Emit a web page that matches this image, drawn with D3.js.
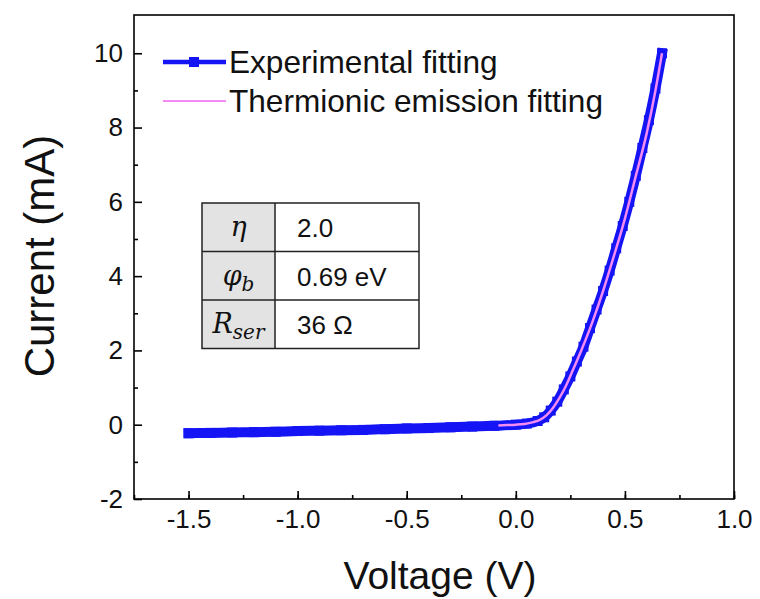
<html>
<head>
<meta charset="utf-8" />
<script src="https://d3js.org/d3.v7.min.js"></script>
<style>
  body { margin: 0; background: #fff; }
  svg { font-family: "Liberation Sans", Arial, sans-serif; }
</style>
</head>
<body>
<svg id="chart" width="760" height="599"></svg>
<script>
// measured I-V curve (V in volts, I in mA)
let expV = [-1.5, -1.4, -1.3, -1.2, -1.1, -1.0, -0.9, -0.8, -0.7, -0.6, -0.5, -0.4, -0.3, -0.2, -0.1,
            0.0, 0.05, 0.1, 0.13, 0.16, 0.19, 0.22, 0.25, 0.28, 0.31, 0.34, 0.37, 0.40, 0.43, 0.46,
            0.49, 0.52, 0.55, 0.58, 0.61, 0.64, 0.67]
let expI = [-0.23, -0.22, -0.21, -0.2, -0.19, -0.17, -0.16, -0.15, -0.14, -0.12, -0.1, -0.09, -0.07, -0.05, -0.03,
            0.0, 0.03, 0.1, 0.2, 0.38, 0.62, 0.95, 1.3, 1.7, 2.1, 2.6, 3.1, 3.6, 4.15, 4.75,
            5.35, 6.0, 6.7, 7.45, 8.2, 9.05, 10.0]
// thermionic emission fit
let fitV = [-0.08, -0.04, 0.0, 0.04, 0.08, 0.11, 0.14, 0.17, 0.2, 0.23, 0.26, 0.3, 0.35, 0.4, 0.45, 0.5, 0.55, 0.6, 0.64, 0.67]
let fitI = [-0.02, -0.01, 0.0, 0.02, 0.07, 0.13, 0.25, 0.45, 0.72, 1.05, 1.45, 2.0, 2.75, 3.6, 4.55, 5.55, 6.7, 7.85, 9.0, 10.0]

let xTicks = [-1.5, -1.0, -0.5, 0.0, 0.5, 1.0]
let yTicks = [-2, 0, 2, 4, 6, 8, 10]
let legendLabels = ["Experimental fitting", "Thermionic emission fitting"]
let paramNames = ["η", "φ", "R"]
let paramSubs = ["", "b", "ser"]
let paramValues = ["2.0", "0.69 eV", "36 Ω"]

let mLeft = 134, mRight = 734, mTop = 15, mBottom = 499
let x = d3.scaleLinear().domain([-1.75, 1.0]).range([mLeft, mRight])
let y = d3.scaleLinear().domain([-2, 11.03]).range([mBottom, mTop])
let hy = s => s.replace("−", "-")

let svg = d3.select("#chart")

// frame
svg.append("rect").attr("x", mLeft).attr("y", mTop).attr("width", mRight - mLeft).attr("height", mBottom - mTop)
  .attr("fill", "none").attr("stroke", "#000").attr("stroke-width", 1.6)

// x axis
let gx = svg.append("g").attr("transform", `translate(0,${mBottom})`)
gx.call(d3.axisBottom(x).tickValues(d3.range(-1.75, 1.001, 0.25)).tickSize(-4).tickFormat(""))
gx.select(".domain").remove()
let gx2 = svg.append("g").attr("transform", `translate(0,${mBottom})`)
gx2.call(d3.axisBottom(x).tickValues(xTicks).tickSize(-8).tickPadding(11).tickFormat(d => hy(d3.format(".1f")(d))))
gx2.select(".domain").remove()
gx2.selectAll("text").attr("font-size", 26).attr("fill", "#111").attr("font-family", "Liberation Sans, Arial")

// y axis
let gy = svg.append("g").attr("transform", `translate(${mLeft},0)`)
gy.call(d3.axisLeft(y).tickValues(d3.range(-1, 11, 2)).tickSize(-4).tickFormat(""))
gy.select(".domain").remove()
let gy2 = svg.append("g").attr("transform", `translate(${mLeft},0)`)
gy2.call(d3.axisLeft(y).tickValues(yTicks).tickSize(-8).tickPadding(11).tickFormat(d => hy(String(d))))
gy2.select(".domain").remove()
gy2.selectAll("text").attr("font-size", 26).attr("fill", "#111").attr("font-family", "Liberation Sans, Arial")
svg.selectAll(".tick line").attr("stroke", "#000").attr("stroke-width", 1.6)

// axis titles
svg.append("text").attr("x", 440).attr("y", 589).attr("text-anchor", "middle")
  .attr("font-size", 39).attr("fill", "#111").text("Voltage (V)")
svg.append("text").attr("transform", "translate(54,256) rotate(-90)").attr("text-anchor", "middle")
  .attr("font-size", 42).attr("fill", "#111").text("Current (mA)")

// data
let expData = expV.map((v, i) => [v, expI[i]])
let fitData = fitV.map((v, i) => [v, fitI[i]])
let line = d3.line().x(d => x(d[0])).y(d => y(d[1])).curve(d3.curveMonotoneX)
let blue = "#1414f5"
svg.append("path").datum(expData).attr("d", line).attr("fill", "none")
  .attr("stroke", blue).attr("stroke-width", 10).attr("stroke-linecap", "square")
svg.append("g").selectAll("rect").data(expData).join("rect")
  .attr("x", d => x(d[0]) - 5).attr("y", d => y(d[1]) - 5).attr("width", 10).attr("height", 10)
  .attr("fill", blue)
svg.append("path").datum(fitData).attr("d", line).attr("fill", "none")
  .attr("stroke", "#f48af4").attr("stroke-width", 2.5)

// legend
svg.append("line").attr("x1", 163).attr("x2", 226).attr("y1", 62).attr("y2", 62)
  .attr("stroke", blue).attr("stroke-width", 4.5)
svg.append("rect").attr("x", 189).attr("y", 57).attr("width", 10).attr("height", 10).attr("fill", blue)
svg.append("line").attr("x1", 163).attr("x2", 226).attr("y1", 101).attr("y2", 101)
  .attr("stroke", "#f48af4").attr("stroke-width", 2)
svg.selectAll(".leg").data(legendLabels).join("text").attr("class", "leg")
  .attr("x", 229).attr("y", (d, i) => 73 + i * 39).attr("font-size", 31.6).attr("fill", "#111").text(d => d)

// parameter table
let tx = 202, tw1 = 73, tw2 = 144, ty = 203, rh = 48.5
let rows = svg.append("g")
rows.append("rect").attr("x", tx).attr("y", ty).attr("width", tw1).attr("height", rh * 3).attr("fill", "#e3e3e3")
rows.append("rect").attr("x", tx + tw1).attr("y", ty).attr("width", tw2).attr("height", rh * 3).attr("fill", "#fff")
for (let i = 1; i < 3; i++) {
  rows.append("line").attr("x1", tx).attr("x2", tx + tw1 + tw2).attr("y1", ty + i * rh).attr("y2", ty + i * rh)
    .attr("stroke", "#222").attr("stroke-width", 1.5)
}
rows.append("line").attr("x1", tx + tw1).attr("x2", tx + tw1).attr("y1", ty).attr("y2", ty + rh * 3)
  .attr("stroke", "#222").attr("stroke-width", 1.5)
rows.append("rect").attr("x", tx).attr("y", ty).attr("width", tw1 + tw2).attr("height", rh * 3)
  .attr("fill", "none").attr("stroke", "#222").attr("stroke-width", 1.5)
paramNames.forEach((n, i) => {
  let t = rows.append("text").attr("x", tx + tw1 / 2).attr("y", ty + i * rh + 33).attr("text-anchor", "middle")
    .attr("font-family", "DejaVu Serif, Liberation Serif, serif").attr("font-style", "italic")
    .attr("font-size", 27).attr("fill", "#111")
  t.append("tspan").text(n)
  if (paramSubs[i]) t.append("tspan").attr("font-size", 20).attr("dy", 6).text(paramSubs[i])
  rows.append("text").attr("x", tx + tw1 + 22).attr("y", ty + i * rh + 34)
    .attr("font-size", 26).attr("fill", "#111").text(paramValues[i])
})
</script>
</body>
</html>
